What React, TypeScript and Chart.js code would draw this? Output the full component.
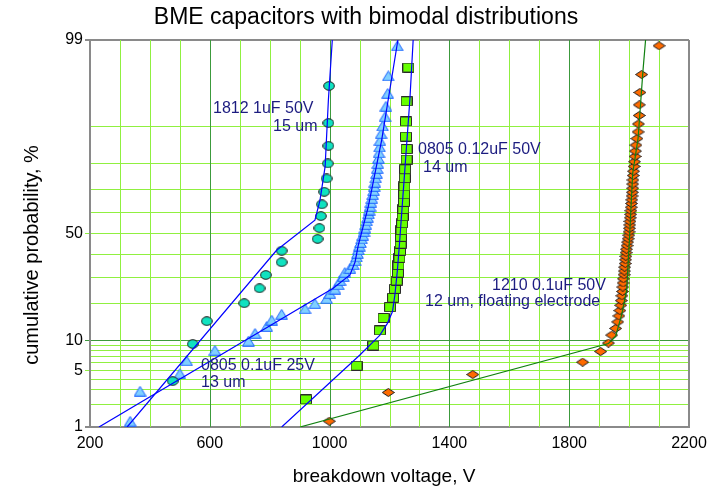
import { useEffect, useRef } from 'react';
import { Chart, registerables } from 'chart.js';
Chart.register(...registerables);

// ---------- axes ----------
const xGridValues = [200, 300, 400, 500, 600, 700, 800, 900, 1000, 1100, 1200, 1300, 1400, 1500, 1600, 1700, 1800, 1900, 2000, 2100, 2200];
const xLabeledValues = [200, 600, 1000, 1400, 1800, 2200];
const xDarkValues = [600, 1000, 1400, 1800];
const yGridPct = [1, 2, 3, 4, 5, 6, 7, 8, 9, 10, 20, 30, 40, 50, 60, 70, 80, 90, 99];
const yLabeledPct = [1, 5, 10, 50, 99];
const yDarkPct = [10];

// ---------- 1812 1uF 50V (circles) ----------
const c1812Pct = [3.8, 9.2, 14.6, 20.1, 25.5, 30.9, 36.5, 41.8, 47.4, 52.6, 58.3, 63.7, 69.2, 74.6, 80.0, 85.4, 90.8, 96.2];
const c1812V = [476, 543, 590, 715, 766, 787, 840, 840, 960, 966, 971, 974, 982, 990, 994, 996, 996, 998];
const fit1812Pct = [1, 42, 56.4, 65.6, 78.9, 94.6, 99];
const fit1812V = [324, 823, 951, 968, 985, 996, 1009];

// ---------- 0805 0.1uF 25V (triangles) ----------
const t0805Pct = [1.2, 2.9, 4.6, 6.3, 8.0, 9.8, 11.5, 13.2, 14.9, 16.6, 18.3, 20.0, 21.7, 23.5, 25.2, 26.9, 28.6, 30.3, 32.0, 33.7, 35.4, 37.2, 38.9, 40.6, 42.3, 44.0, 45.7, 47.4, 49.1, 50.9, 52.6, 54.3, 56.0, 57.7, 59.4, 61.1, 62.8, 64.6, 66.3, 68.0, 69.7, 71.4, 73.1, 74.8, 76.5, 78.3, 80.0, 81.7, 83.4, 85.1, 86.8, 88.5, 90.2, 92.0, 93.7, 95.4, 97.1, 98.8];
const t0805V = [334, 367, 500, 523, 617, 729, 751, 790, 807, 840, 918, 951, 990, 1001, 1018, 1029, 1035, 1046, 1051, 1068, 1079, 1085, 1090, 1093, 1096, 1099, 1103, 1107, 1111, 1115, 1118, 1121, 1124, 1127, 1130, 1132, 1135, 1138, 1141, 1144, 1147, 1149, 1151, 1154, 1157, 1159, 1161, 1163, 1165, 1167, 1168, 1172, 1177, 1185, 1188, 1194, 1196, 1226];
const fitT0805Pct = [1, 25.5, 30.9, 36.6, 44.5, 62.6, 87, 99];
const fitT0805V = [230, 1012, 1068, 1085, 1096, 1129, 1174, 1228];

// ---------- 0805 0.12uF 50V (squares) ----------
const s0805Pct = [2.3, 5.6, 8.9, 12.2, 15.5, 18.8, 22.0, 25.3, 28.6, 31.9, 35.2, 38.5, 41.8, 45.1, 48.4, 51.6, 54.9, 58.2, 61.5, 64.8, 68.1, 71.4, 74.7, 78.0, 81.3, 84.5, 87.8, 91.1, 94.4, 97.7];
const s0805V = [921, 1090, 1146, 1168, 1180, 1202, 1212, 1218, 1224, 1228, 1230, 1233, 1235, 1237, 1238, 1240, 1242, 1244, 1246, 1248, 1249, 1250, 1251, 1252, 1257, 1257, 1255, 1255, 1257, 1263];
const fitS0805Pct = [1, 7.2, 11.1, 14, 17.4, 23, 32.4, 44.5, 79, 94.6, 99];
const fitS0805V = [840, 1101, 1168, 1193, 1210, 1218, 1226, 1233, 1252, 1268, 1279];

// ---------- 1210 0.1uF 50V (diamonds) ----------
const d1210Pct = [1.2, 2.8, 4.5, 6.1, 7.8, 9.4, 11.1, 12.7, 14.4, 16.1, 17.7, 19.4, 21.0, 22.7, 24.3, 26.0, 27.6, 29.3, 31.0, 32.6, 34.3, 35.9, 37.6, 39.2, 40.9, 42.5, 44.2, 45.9, 47.5, 49.2, 50.8, 52.5, 54.1, 55.8, 57.5, 59.1, 60.8, 62.4, 64.1, 65.7, 67.4, 69.0, 70.7, 72.4, 74.0, 75.7, 77.3, 79.0, 80.6, 82.3, 83.9, 85.6, 87.3, 88.9, 90.6, 92.2, 93.9, 95.5, 97.2, 98.8];
const d1210V = [999, 1196, 1478, 1845, 1905, 1931, 1942, 1955, 1962, 1966, 1969, 1972, 1974, 1976, 1978, 1979, 1980, 1981, 1983, 1984, 1985, 1987, 1988, 1989, 1990, 1991, 1993, 1995, 1997, 1999, 2000, 2001, 2002, 2003, 2004, 2005, 2006, 2007, 2008, 2009, 2010, 2011, 2012, 2012, 2013, 2014, 2015, 2017, 2018, 2020, 2021, 2023, 2026, 2030, 2031, 2034, 2034, 2036, 2042, 2100];
const fitD1210Pct = [1, 9.3, 10.8, 16.4, 24.9, 47, 76.5, 87.4, 97.4, 99];
const fitD1210V = [901, 1931, 1955, 1975, 1992, 2001, 2012, 2030, 2046, 2055];

// ---------- texts ----------
const titleText = 'BME capacitors with bimodal distributions';
const xTitleText = 'breakdown voltage, V';
const yTitleText = 'cumulative probability, %';
const FONT = '"Liberation Sans", Arial, sans-serif';

// inverse of the standard normal CDF (Acklam)
function probit(p: number): number {
  const a = [-3.969683028665376e1, 2.209460984245205e2, -2.759285104469687e2, 1.38357751867269e2, -3.066479806614716e1, 2.506628277459239];
  const b = [-5.447609879822406e1, 1.615858368580409e2, -1.556989798598866e2, 6.680131188771972e1, -1.328068155288572e1];
  const c = [-7.784894002430293e-3, -3.223964580411365e-1, -2.400758277161838, -2.549732539343734, 4.374664141464968, 2.938163982698783];
  const d = [7.784695709041462e-3, 3.224671290700398e-1, 2.445134137142996, 3.754408661907416];
  const pl = 0.02425;
  if (p < pl) {
    const q = Math.sqrt(-2 * Math.log(p));
    return (((((c[0] * q + c[1]) * q + c[2]) * q + c[3]) * q + c[4]) * q + c[5]) / ((((d[0] * q + d[1]) * q + d[2]) * q + d[3]) * q + 1);
  }
  if (p <= 1 - pl) {
    const q = p - 0.5;
    const r = q * q;
    return ((((((a[0] * r + a[1]) * r + a[2]) * r + a[3]) * r + a[4]) * r + a[5]) * q) / (((((b[0] * r + b[1]) * r + b[2]) * r + b[3]) * r + b[4]) * r + 1);
  }
  const q = Math.sqrt(-2 * Math.log(1 - p));
  return -(((((c[0] * q + c[1]) * q + c[2]) * q + c[3]) * q + c[4]) * q + c[5]) / ((((d[0] * q + d[1]) * q + d[2]) * q + d[3]) * q + 1);
}

const toPoints = (pcts: number[], vs: number[]) => pcts.map((p, i) => ({ x: vs[i], y: probit(p / 100) }));

function makeMarker(kind: string, w: number, h: number, fill: string, stroke: string) {
  const cv = document.createElement('canvas');
  cv.width = w;
  cv.height = h;
  const g = cv.getContext('2d')!;
  g.fillStyle = fill;
  g.strokeStyle = stroke;
  g.lineWidth = 1;
  g.beginPath();
  if (kind === 'ellipse') {
    g.ellipse(w / 2, h / 2, w / 2 - 0.7, h / 2 - 0.7, 0, 0, Math.PI * 2);
  } else if (kind === 'triangle') {
    g.moveTo(w / 2, 0.7);
    g.lineTo(w - 0.7, h - 0.7);
    g.lineTo(0.7, h - 0.7);
    g.closePath();
  } else if (kind === 'rect') {
    g.rect(0.5, 0.5, w - 1, h - 1);
  } else {
    g.moveTo(w / 2, 0.5);
    g.lineTo(w - 0.5, h / 2);
    g.lineTo(w / 2, h - 0.5);
    g.lineTo(0.5, h / 2);
    g.closePath();
  }
  g.fill();
  g.stroke();
  return cv;
}

const NAVY = '#1c1c80';
const LIGHT_GRID = '#90f040';
const DARK_GRID = '#3c9a3c';
const FRAME = '#8a8a8a';

// vertical grid lines, placed through the x scale
const xGridPlugin = {
  id: 'xGridLines',
  beforeDatasetsDraw(chart: any) {
    const { ctx, chartArea, scales } = chart;
    ctx.save();
    for (const v of xGridValues) {
      const edge = v === xGridValues[0] || v === xGridValues[xGridValues.length - 1];
      const px = scales.x.getPixelForValue(v);
      ctx.strokeStyle = edge ? FRAME : xDarkValues.includes(v) ? DARK_GRID : LIGHT_GRID;
      ctx.lineWidth = edge ? 2 : 1;
      const x = edge ? Math.round(px) : Math.round(px) + 0.5;
      ctx.beginPath();
      ctx.moveTo(x, chartArea.top);
      ctx.lineTo(x, chartArea.bottom);
      ctx.stroke();
    }
    ctx.restore();
  },
};

const textPlugin = {
  id: 'customTexts',
  afterDraw(chart: any) {
    const ctx = chart.ctx as CanvasRenderingContext2D;
    ctx.save();
    ctx.fillStyle = '#000';
    ctx.textBaseline = 'middle';
    ctx.textAlign = 'center';
    ctx.font = `23px ${FONT}`;
    ctx.fillText(titleText, 366, 18);
    ctx.font = `19px ${FONT}`;
    ctx.fillText(xTitleText, 384, 477);
    ctx.save();
    ctx.translate(32, 255);
    ctx.rotate(-Math.PI / 2);
    ctx.font = `20px ${FONT}`;
    ctx.fillText(yTitleText, 0, 0);
    ctx.restore();

    ctx.fillStyle = NAVY;
    ctx.font = `16px ${FONT}`;
    ctx.textAlign = 'left';
    const notes: [string, number, number][] = [
      ['1812 1uF 50V', 213, 109],
      ['15 um', 273, 127],
      ['0805 0.12uF 50V', 418, 150],
      ['14 um', 423, 168],
      ['0805 0.1uF 25V', 201, 366],
      ['13 um', 201, 383],
      ['1210 0.1uF 50V', 492, 286],
      ['12 um, floating electrode', 425, 302],
    ];
    for (const [t, x, y] of notes) ctx.fillText(t, x, y);
    ctx.restore();
  },
};

export default function App() {
  const ref = useRef<HTMLCanvasElement>(null);
  useEffect(() => {
    const canvas = ref.current!;
    const circleImg = makeMarker('ellipse', 12, 10, '#10e2c0', '#1a1a1a');
    const triImg = makeMarker('triangle', 13, 11, '#80d0ff', '#1860ff');
    const sqImg = makeMarker('rect', 12, 10, '#66ff00', '#2a2a2a');
    const diaImg = makeMarker('diamond', 13, 9, '#ff6a00', '#1a1a1a');

    const lineDs = (pcts: number[], vs: number[], color: string) => ({
      data: toPoints(pcts, vs),
      showLine: true,
      borderColor: color,
      borderWidth: 1.2,
      pointRadius: 0,
      pointHoverRadius: 0,
      tension: 0,
      order: 0,
    });
    const ptDs = (pcts: number[], vs: number[], img: HTMLCanvasElement) => ({
      data: toPoints(pcts, vs),
      showLine: false,
      pointStyle: img,
      pointRadius: 6,
      order: 1,
    });

    const yColor = (i: number) => {
      const p = yGridPct[i];
      if (p === 1 || p === 99) return FRAME;
      return yDarkPct.includes(p) ? DARK_GRID : LIGHT_GRID;
    };

    const chart = new Chart(canvas, {
      type: 'scatter',
      data: {
        datasets: [
          lineDs(fit1812Pct, fit1812V, '#0000ff'),
          lineDs(fitT0805Pct, fitT0805V, '#0000ff'),
          lineDs(fitS0805Pct, fitS0805V, '#0000ff'),
          lineDs(fitD1210Pct, fitD1210V, '#108010'),
          ptDs(c1812Pct, c1812V, circleImg),
          ptDs(t0805Pct, t0805V, triImg),
          ptDs(s0805Pct, s0805V, sqImg),
          ptDs(d1210Pct, d1210V, diaImg),
        ] as any,
      },
      options: {
        responsive: false,
        animation: false,
        devicePixelRatio: 1,
        layout: { padding: { top: 40, right: 29, left: 0, bottom: 0 } },
        plugins: { legend: { display: false }, tooltip: { enabled: false }, title: { display: false } },
        events: [],
        scales: {
          x: {
            type: 'linear',
            min: 200,
            max: 2200,
            afterBuildTicks: (s: any) => {
              s.ticks = xGridValues.map((v) => ({ value: v }));
            },
            afterFit: (s: any) => {
              s.height = 60;
            },
            ticks: {
              autoSkip: false,
              maxRotation: 0,
              padding: 7,
              color: '#000',
              font: { size: 16, family: FONT },
              callback: (_v: any, i: number) => (xLabeledValues.includes(xGridValues[i]) ? String(xGridValues[i]) : ''),
            },
            grid: { display: false, drawTicks: false },
            border: { display: true, color: FRAME, width: 2 },
          },
          y: {
            type: 'linear',
            min: probit(0.01),
            max: probit(0.99),
            afterBuildTicks: (s: any) => {
              s.ticks = yGridPct.map((p) => ({ value: probit(p / 100) }));
            },
            afterFit: (s: any) => {
              s.width = 90;
            },
            ticks: {
              autoSkip: false,
              padding: 2,
              color: '#000',
              font: { size: 16, family: FONT },
              callback: (_v: any, i: number) => (yLabeledPct.includes(yGridPct[i]) ? String(yGridPct[i]) : ''),
            },
            grid: {
              tickLength: 5,
              color: (ctx: any) => yColor(ctx.index),
              tickColor: (ctx: any) => (yLabeledPct.includes(yGridPct[ctx.index]) ? yColor(ctx.index) : 'rgba(0,0,0,0)'),
              lineWidth: (ctx: any) => {
                const p = yGridPct[ctx.index];
                return p === 1 || p === 99 ? 2 : 1;
              },
            },
            border: { color: FRAME, width: 2 },
          },
        },
      },
      plugins: [xGridPlugin, textPlugin],
    });
    return () => chart.destroy();
  }, []);

  return (
    <div style={{ position: 'absolute', left: 0, top: 0, width: 718, height: 487, background: '#fff' }}>
      <canvas ref={ref} width={718} height={487} style={{ display: 'block', width: 718, height: 487 }} />
    </div>
  );
}
